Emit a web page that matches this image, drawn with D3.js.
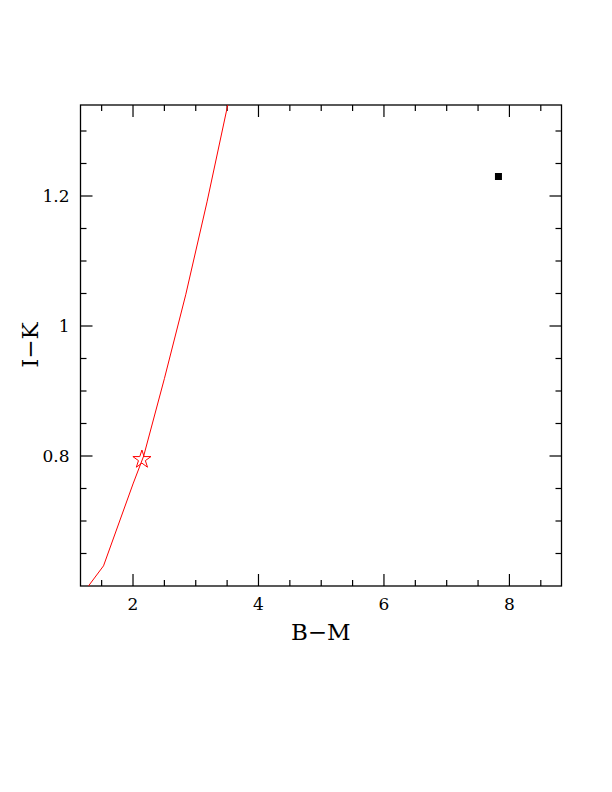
<!DOCTYPE html>
<html><head><meta charset="utf-8">
<script src="https://cdn.jsdelivr.net/npm/d3@7"></script>
<style>body{margin:0;background:#fff}svg{display:block}</style>
</head><body>
<script>
const xTicks = [2, 4, 6, 8];
const yTicks = [0.8, 1.0, 1.2];
const yTickLabels = ["0.8", "1", "1.2"];
const curveX = [1.29, 1.53, 2.0, 2.17, 2.50, 2.84, 3.18, 3.51];
const curveY = [0.60, 0.631, 0.757, 0.80, 0.919, 1.048, 1.191, 1.34];
const starPoint = [2.142, 0.7946];
const squarePoint = [7.825, 1.230];

const W = 612, H = 792;
const L = 80.5, R = 561.5, T = 105, B = 586;
const x = d3.scaleLinear().domain([1.163, 8.83]).range([L, R]);
const y = d3.scaleLinear().domain([0.6, 1.34]).range([B, T]);

const svg = d3.select("body").append("svg").attr("width", W).attr("height", H);
const font = "DejaVu Serif";

// frame
svg.append("rect").attr("x", L).attr("y", T).attr("width", R - L).attr("height", B - T)
  .attr("fill", "none").attr("stroke", "#000").attr("stroke-width", 1.3);

// ticks
const xMinor = d3.range(1.5, 8.84, 0.5);
const yMinor = d3.range(0.65, 1.341, 0.05);
const g = svg.append("g").attr("stroke", "#000").attr("stroke-width", 1.2);
xMinor.forEach(v => {
  const major = xTicks.some(t => Math.abs(t - v) < 1e-6);
  const len = major ? 12 : 6;
  g.append("line").attr("x1", x(v)).attr("x2", x(v)).attr("y1", B).attr("y2", B - len);
  g.append("line").attr("x1", x(v)).attr("x2", x(v)).attr("y1", T).attr("y2", T + len);
});
yMinor.forEach(v => {
  const major = yTicks.some(t => Math.abs(t - v) < 1e-6);
  const len = major ? 12 : 6;
  g.append("line").attr("y1", y(v)).attr("y2", y(v)).attr("x1", L).attr("x2", L + len);
  g.append("line").attr("y1", y(v)).attr("y2", y(v)).attr("x1", R).attr("x2", R - len);
});

// tick labels
svg.append("g").selectAll("text").data(xTicks).join("text")
  .attr("x", d => x(d)).attr("y", 610).attr("text-anchor", "middle")
  .attr("font-family", font).attr("font-size", 17).text(d => d);
svg.append("g").selectAll("text").data(yTicks).join("text")
  .attr("x", 69.5).attr("y", d => y(d) + 6).attr("text-anchor", "end")
  .attr("font-family", font).attr("font-size", 17).text((d, i) => yTickLabels[i]);

// axis titles
svg.append("text").attr("x", 320.8).attr("y", 640).attr("text-anchor", "middle")
  .attr("font-family", font).attr("font-size", 23).text("B\u2212M");
svg.append("text").attr("transform", "translate(37.5,345) rotate(-90)").attr("text-anchor", "middle")
  .attr("font-family", font).attr("font-size", 23).text("I\u2212K");

// clip
svg.append("clipPath").attr("id", "clip").append("rect")
  .attr("x", L).attr("y", T).attr("width", R - L).attr("height", B - T);

const pts = curveX.map((v, i) => [v, curveY[i]]);
svg.append("path").attr("clip-path", "url(#clip)")
  .attr("d", d3.line().x(d => x(d[0])).y(d => y(d[1]))(pts))
  .attr("fill", "none").attr("stroke", "#ff0000").attr("stroke-width", 1);

// star
const sr = 9.5, sri = sr * 0.382;
const starPts = d3.range(10).map(i => {
  const a = -Math.PI / 2 + i * Math.PI / 5;
  const r = i % 2 === 0 ? sr : sri;
  return [x(starPoint[0]) + r * Math.cos(a), y(starPoint[1]) + r * Math.sin(a)];
});
svg.append("polygon").attr("points", starPts.map(p => p.join(",")).join(" "))
  .attr("fill", "none").attr("stroke", "#ff0000").attr("stroke-width", 1);

// square
svg.append("rect").attr("x", x(squarePoint[0]) - 3.5).attr("y", y(squarePoint[1]) - 3.5)
  .attr("width", 7).attr("height", 7).attr("fill", "#000");
</script>
</body></html>
